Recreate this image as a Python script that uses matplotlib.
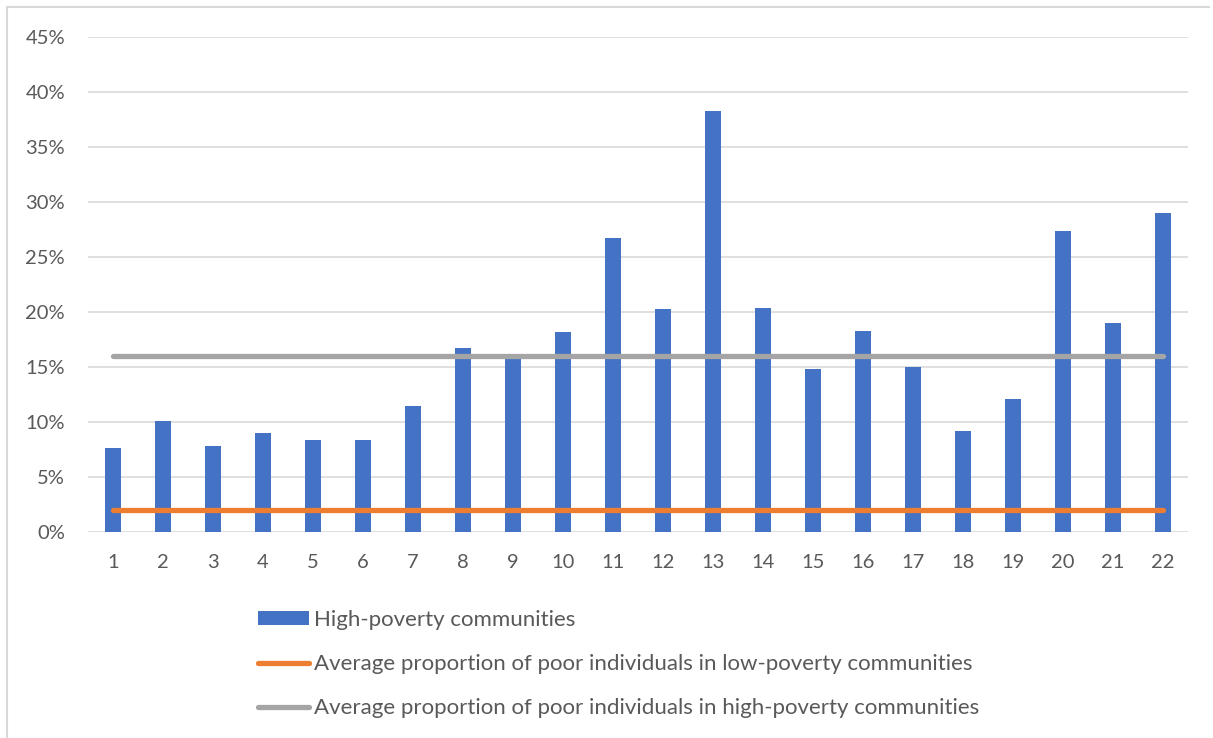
import numpy as np
import matplotlib.pyplot as plt
from matplotlib.lines import Line2D
from matplotlib.patches import Patch
from matplotlib.ticker import PercentFormatter

plt.rcParams['font.family'] = ['Lato', 'DejaVu Sans']

communities = list(range(1, 23))
high_poverty = [7.6, 10.1, 7.8, 9.0, 8.4, 8.4, 11.5, 16.7, 16.0, 18.2, 26.7,
                20.3, 38.3, 20.4, 14.8, 18.3, 15.0, 9.2, 12.1, 27.4, 19.0, 29.0]
avg_low = 2.0
avg_high = 16.0

blue = '#4472C4'
orange = '#ED7D31'
grey = '#A5A5A5'
text_col = '#595959'
grid_col = '#D9D9D9'

fig = plt.figure(figsize=(12.13, 7.38), dpi=100)
ax = fig.add_axes([88 / 1213, 1 - 532 / 738, 1100 / 1213, 495 / 738])

x = np.arange(len(communities))
ax.bar(x, high_poverty, width=0.32, color=blue, zorder=2,
       label='High-poverty communities')
ax.plot(x, [avg_low] * len(x), color=orange, lw=3.8, solid_capstyle='round', zorder=3,
        label='Average proportion of poor individuals in low-poverty communities')
ax.plot(x, [avg_high] * len(x), color=grey, lw=3.8, solid_capstyle='round', zorder=3,
        label='Average proportion of poor individuals in high-poverty communities')

ax.set_xlim(-0.5, len(x) - 0.5)
ax.set_ylim(0, 45)
ax.set_yticks(np.arange(0, 46, 5))
ax.yaxis.set_major_formatter(PercentFormatter(decimals=0))
ax.set_xticks(x)
ax.set_xticklabels([str(c) for c in communities])
ax.grid(axis='y', color=grid_col, lw=1.2, zorder=0)
for s in ax.spines.values():
    s.set_visible(False)
ax.tick_params(length=0, labelsize=14.5, colors=text_col)
ax.tick_params(axis='y', pad=16.5)
ax.tick_params(axis='x', pad=16)

handles = [
    Patch(facecolor=blue, label='High-poverty communities'),
    Line2D([0], [0], color=orange, lw=3.8, solid_capstyle='round',
           label='Average proportion of poor individuals in low-poverty communities'),
    Line2D([0], [0], color=grey, lw=3.8, solid_capstyle='round',
           label='Average proportion of poor individuals in high-poverty communities'),
]
leg = fig.legend(handles=handles, loc='upper left', bbox_to_anchor=(238 / 1213, 1 - 590 / 738),
                 frameon=False, fontsize=16, labelcolor=text_col,
                 handlelength=2.3, handleheight=0.6, handletextpad=0.22, labelspacing=1.08)

# chart frame
fig.add_artist(Line2D([7 / 1213, 7 / 1213], [0, 1 - 7 / 738], color=grid_col, lw=1.5))
fig.add_artist(Line2D([7 / 1213, 1209 / 1213], [1 - 7 / 738, 1 - 7 / 738], color=grid_col, lw=1.5))

fig.savefig('out.png', dpi=100)
